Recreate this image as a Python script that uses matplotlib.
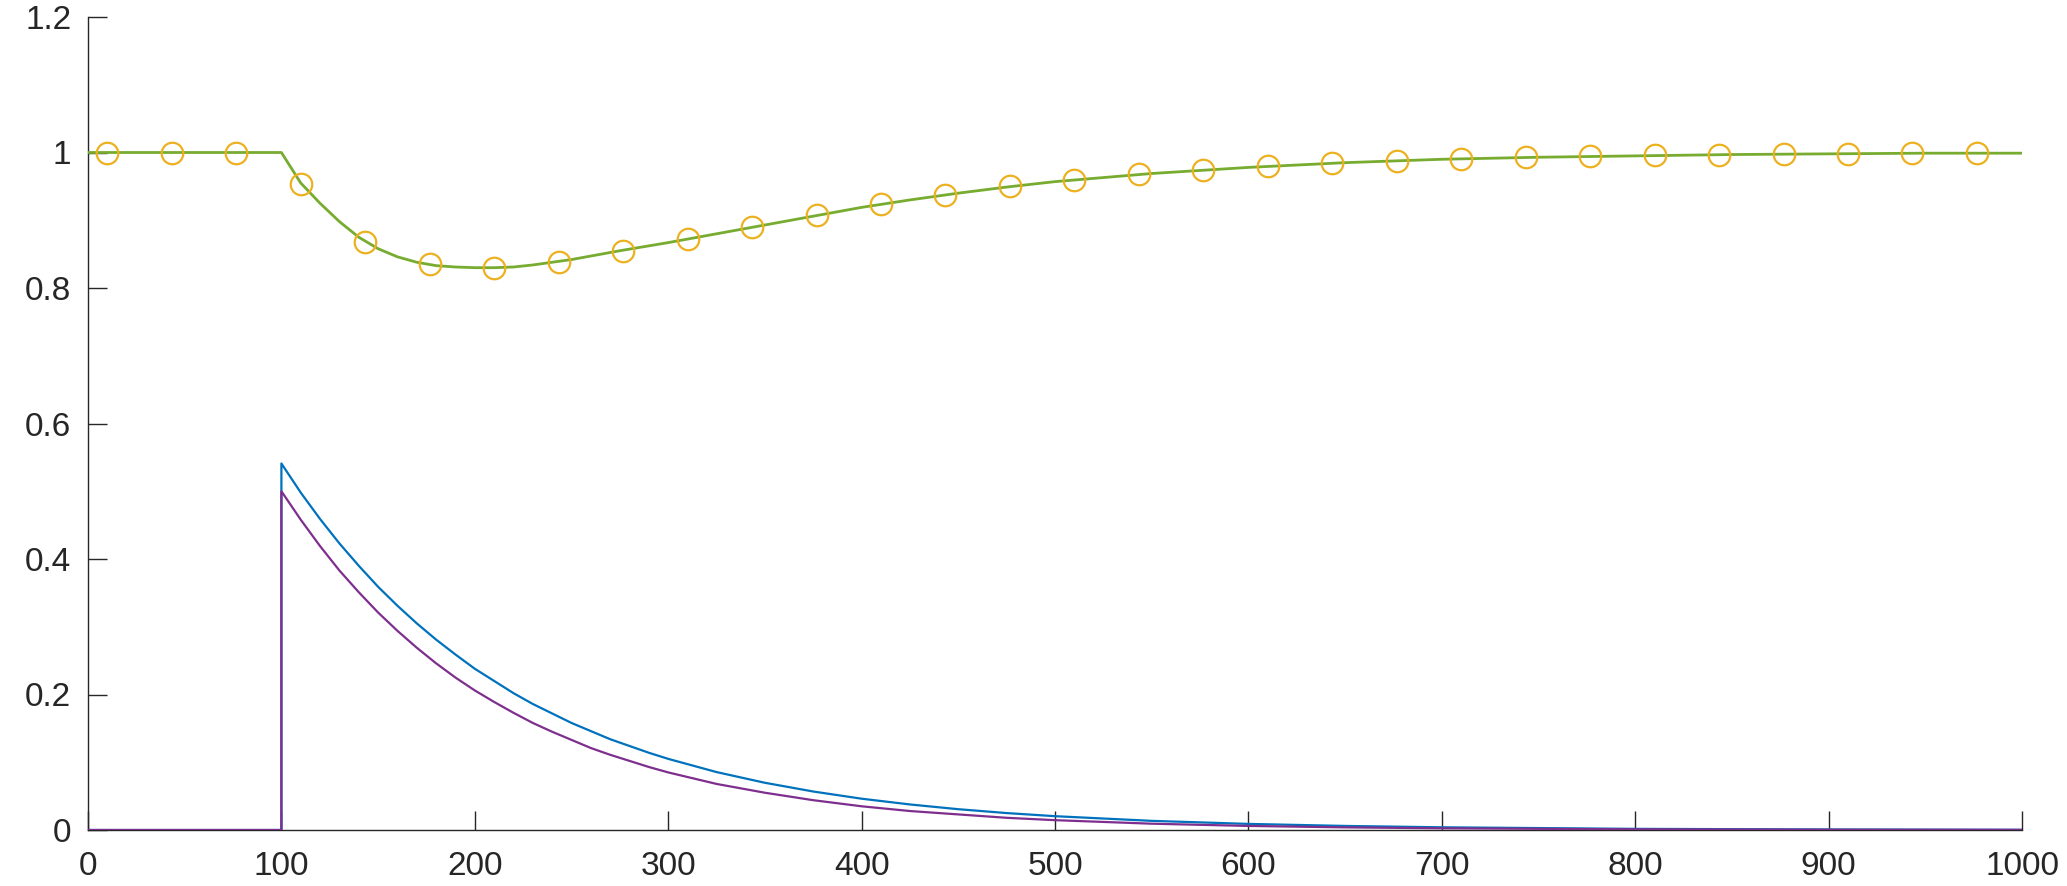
import matplotlib
matplotlib.use("Agg")
import matplotlib.pyplot as plt

# ---- data ----
# green response line
green_x = [0, 100, 110, 120, 130, 140, 150, 160, 170, 180, 190, 200, 210, 220, 230,
           240, 250, 275, 300, 325, 350, 375, 400, 425, 450, 475, 500, 550, 600,
           650, 700, 750, 800, 850, 900, 950, 1000]
green_y = [1.0, 1.0, 0.955, 0.925, 0.898, 0.875, 0.858, 0.846, 0.838, 0.833, 0.831,
           0.830, 0.830, 0.831, 0.834, 0.838, 0.842, 0.855, 0.867, 0.880, 0.893,
           0.906, 0.919, 0.930, 0.940, 0.949, 0.957, 0.969, 0.978, 0.985, 0.990,
           0.993, 0.995, 0.997, 0.998, 0.999, 0.999]

# circle markers
marker_x = [10, 43.3, 76.7, 110, 143.3, 176.7, 210, 243.3, 276.7, 310, 343.3, 376.7,
            410, 443.3, 476.7, 510, 543.3, 576.7, 610, 643.3, 676.7, 710, 743.3,
            776.7, 810, 843.3, 876.7, 910, 943.3, 976.7]
marker_y = [1.0, 1.0, 1.0, 0.954, 0.868, 0.835, 0.830, 0.839, 0.855, 0.872, 0.890,
            0.908, 0.924, 0.937, 0.950, 0.959, 0.968, 0.974, 0.980, 0.984, 0.988,
            0.991, 0.993, 0.995, 0.996, 0.997, 0.998, 0.998, 0.999, 0.999]

# decaying pulses
pulse_x = [0, 100, 100, 110, 120, 130, 140, 150, 160, 170, 180, 190, 200, 210, 220,
           230, 240, 250, 260, 270, 280, 290, 300, 325, 350, 375, 400, 425, 450, 475,
           500, 550, 600, 650, 700, 800, 900, 1000]
blue_y = [0.0, 0.0, 0.541, 0.498, 0.459, 0.423, 0.390, 0.359, 0.331, 0.305, 0.281,
          0.259, 0.238, 0.220, 0.202, 0.186, 0.172, 0.158, 0.146, 0.134, 0.124, 0.114,
          0.105, 0.0855, 0.0697, 0.0568, 0.0462, 0.0377, 0.0307, 0.025, 0.0204, 0.0135,
          0.009, 0.006, 0.004, 0.0017, 0.0008, 0.0003]
purple_y = [0.0, 0.0, 0.500, 0.458, 0.419, 0.383, 0.351, 0.321, 0.294, 0.269, 0.246,
            0.225, 0.206, 0.189, 0.173, 0.158, 0.145, 0.133, 0.121, 0.111, 0.102, 0.093,
            0.085, 0.068, 0.055, 0.044, 0.035, 0.028, 0.023, 0.018, 0.0145, 0.0093,
            0.006, 0.0039, 0.0025, 0.001, 0.0004, 0.0002]

x_ticks = [0, 100, 200, 300, 400, 500, 600, 700, 800, 900, 1000]
x_labels = ["0", "100", "200", "300", "400", "500", "600", "700", "800", "900", "1000"]
y_ticks = [0, 0.2, 0.4, 0.6, 0.8, 1.0, 1.2]
y_labels = ["0", "0.2", "0.4", "0.6", "0.8", "1", "1.2"]

# ---- figure ----
W, H = 2067, 886
fig = plt.figure(figsize=(W / 100, H / 100), dpi=100)
left, right, bottom, top = 88, 2022, 830, 17
ax = fig.add_axes([left / W, (H - bottom) / H, (right - left) / W, (bottom - top) / H])

ax.plot(pulse_x, blue_y, color="#0072BD", lw=1.6, zorder=2)
ax.plot(pulse_x, purple_y, color="#7E2F8E", lw=1.6, zorder=3)
ax.plot(green_x, green_y, color="#77AC30", lw=2.0, zorder=4)
ax.plot(marker_x, marker_y, linestyle="none", marker="o", markersize=15.5,
        markerfacecolor="none", markeredgecolor="#EDB120", markeredgewidth=1.6, zorder=5)

ax.set_xlim(0, 1000)
ax.set_ylim(0, 1.2)
ax.set_xticks(x_ticks)
ax.set_xticklabels(x_labels)
ax.set_yticks(y_ticks)
ax.set_yticklabels(y_labels)

for s in ["top", "right"]:
    ax.spines[s].set_visible(False)
for s in ["left", "bottom"]:
    ax.spines[s].set_color("#262626")
    ax.spines[s].set_linewidth(1.0)

ax.tick_params(axis="both", direction="in", length=14, width=1.0, color="#262626",
               labelcolor="#262626", labelsize=24)
ax.tick_params(axis="x", pad=15)
ax.tick_params(axis="y", pad=12)
for lab in ax.get_xticklabels() + ax.get_yticklabels():
    lab.set_fontfamily("Liberation Sans")

fig.savefig("out.png", dpi=100)
